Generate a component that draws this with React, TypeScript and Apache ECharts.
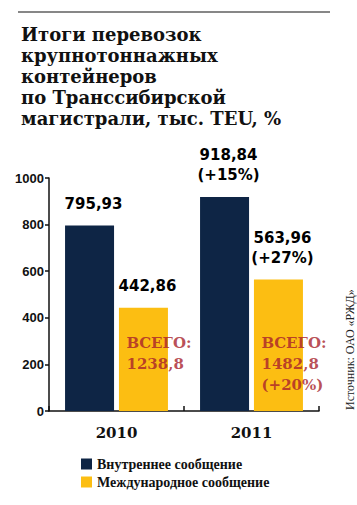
import React, { useEffect, useRef } from "react";
import * as echarts from "echarts";

const titleLines = [
  "Итоги перевозок",
  "крупнотоннажных",
  "контейнеров",
  "по Транссибирской",
  "магистрали, тыс. TEU, %",
];
const years = ["2010", "2011"];
const seriesNames = ["Внутреннее сообщение", "Международное сообщение"];
const domesticValues = [795.93, 918.84];
const domesticGrowth = ["", "+15%"];
const internationalValues = [442.86, 563.96];
const internationalGrowth = ["", "+27%"];
const totalValues = [1238.8, 1482.8];
const totalGrowth = ["", "+20%"];
const totalLabel = "ВСЕГО:";
const sourceText = "Источник: ОАО «РЖД»";
const yTicks = [0, 200, 400, 600, 800, 1000];

const NAVY = "#0e2545";
const YELLOW = "#fcbe12";
const RED = "#a81f2c";

function fmt(v: number, digits: number) {
  return v.toFixed(digits).replace(".", ",");
}

export default function App() {
  const ref = useRef<HTMLDivElement>(null);
  useEffect(() => {
    if (!ref.current) return;
    const chart = echarts.init(ref.current, null, { renderer: "svg" });
    const valueLabel = (growth: string[]) => ({
      show: true,
      position: "top" as const,
      distance: 12,
      offset: [4, 0],
      fontFamily: "DejaVu Sans",
      fontWeight: "bold" as const,
      fontSize: 15,
      lineHeight: 20,
      color: "#000",
      formatter: (p: any) => {
        const g = growth[p.dataIndex];
        const v = fmt(p.value, 2);
        return g ? `${v}\n(${g})` : v;
      },
    });
    chart.setOption({
      animation: false,
      backgroundColor: "#ffffff",
      title: {
        text: titleLines.join("\n"),
        left: 16,
        top: 19,
        textStyle: {
          fontFamily: "DejaVu Serif",
          fontWeight: "bold",
          fontSize: 18,
          lineHeight: 21,
          color: "#111",
        },
      },
      grid: { left: 49, right: 38, top: 178, bottom: 94 },
      legend: {
        data: seriesNames,
        orient: "vertical",
        left: 76,
        top: 452,
        itemWidth: 11,
        itemHeight: 11,
        itemGap: 4,
        icon: "rect",
        textStyle: {
          fontFamily: "Liberation Serif",
          fontWeight: "bold",
          fontSize: 14,
          lineHeight: 11,
          color: "#111",
        },
      },
      xAxis: {
        type: "category",
        data: years,
        axisLine: { lineStyle: { color: "#111", width: 1.5 } },
        axisTick: { show: true, inside: true, length: 5, lineStyle: { color: "#111", width: 1.5 } },
        axisLabel: {
          margin: 14,
          fontFamily: "DejaVu Serif",
          fontWeight: "bold",
          fontSize: 15,
          color: "#111",
        },
      },
      yAxis: {
        type: "value",
        min: yTicks[0],
        max: yTicks[yTicks.length - 1],
        interval: 200,
        splitLine: { show: false },
        axisLine: { show: true, lineStyle: { color: "#111", width: 1.5 } },
        axisTick: { show: true, length: 4, lineStyle: { color: "#111", width: 1.5 } },
        axisLabel: {
          margin: 5,
          fontFamily: "Liberation Sans",
          fontWeight: "bold",
          fontSize: 13,
          color: "#111",
          formatter: (v: number) => String(v),
        },
      },
      series: [
        {
          name: seriesNames[0],
          type: "bar",
          data: domesticValues,
          barWidth: 49,
          barGap: "10%",
          itemStyle: { color: NAVY },
          label: valueLabel(domesticGrowth),
        },
        {
          name: seriesNames[1],
          type: "bar",
          data: internationalValues,
          barWidth: 49,
          itemStyle: { color: YELLOW },
          label: valueLabel(internationalGrowth),
        },
        {
          name: "totals",
          type: "scatter",
          data: totalValues.map((v, i) => ({ value: [i, 335], total: v })),
          symbolSize: 0,
          silent: true,
          z: 10,
          label: {
            show: true,
            position: "inside",
            align: "left",
            verticalAlign: "top",
            offset: [10, 0],
            fontFamily: "DejaVu Serif",
            fontWeight: "bold",
            fontSize: 15,
            lineHeight: 21,
            color: RED,
            formatter: (p: any) => {
              const i = p.dataIndex;
              const g = totalGrowth[i];
              const t = `${totalLabel}\n${fmt(totalValues[i], 1)}`;
              return g ? `${t}\n(${g})` : t;
            },
          },
        },
      ],
      graphic: [
        {
          type: "line",
          shape: { x1: 18, y1: 12, x2: 330, y2: 12 },
          style: { stroke: "#111", lineWidth: 1.2 },
        },
        {
          type: "text",
          x: 350,
          y: 410,
          rotation: Math.PI / 2,
          style: {
            text: sourceText,
            fontFamily: "Liberation Serif",
            fontSize: 12,
            fill: "#222",
            align: "left",
            verticalAlign: "middle",
          },
        },
      ],
    });
    return () => chart.dispose();
  }, []);
  return (
    <div
      ref={ref}
      style={{ position: "absolute", left: 0, top: 0, width: 357, height: 505 }}
    />
  );
}
